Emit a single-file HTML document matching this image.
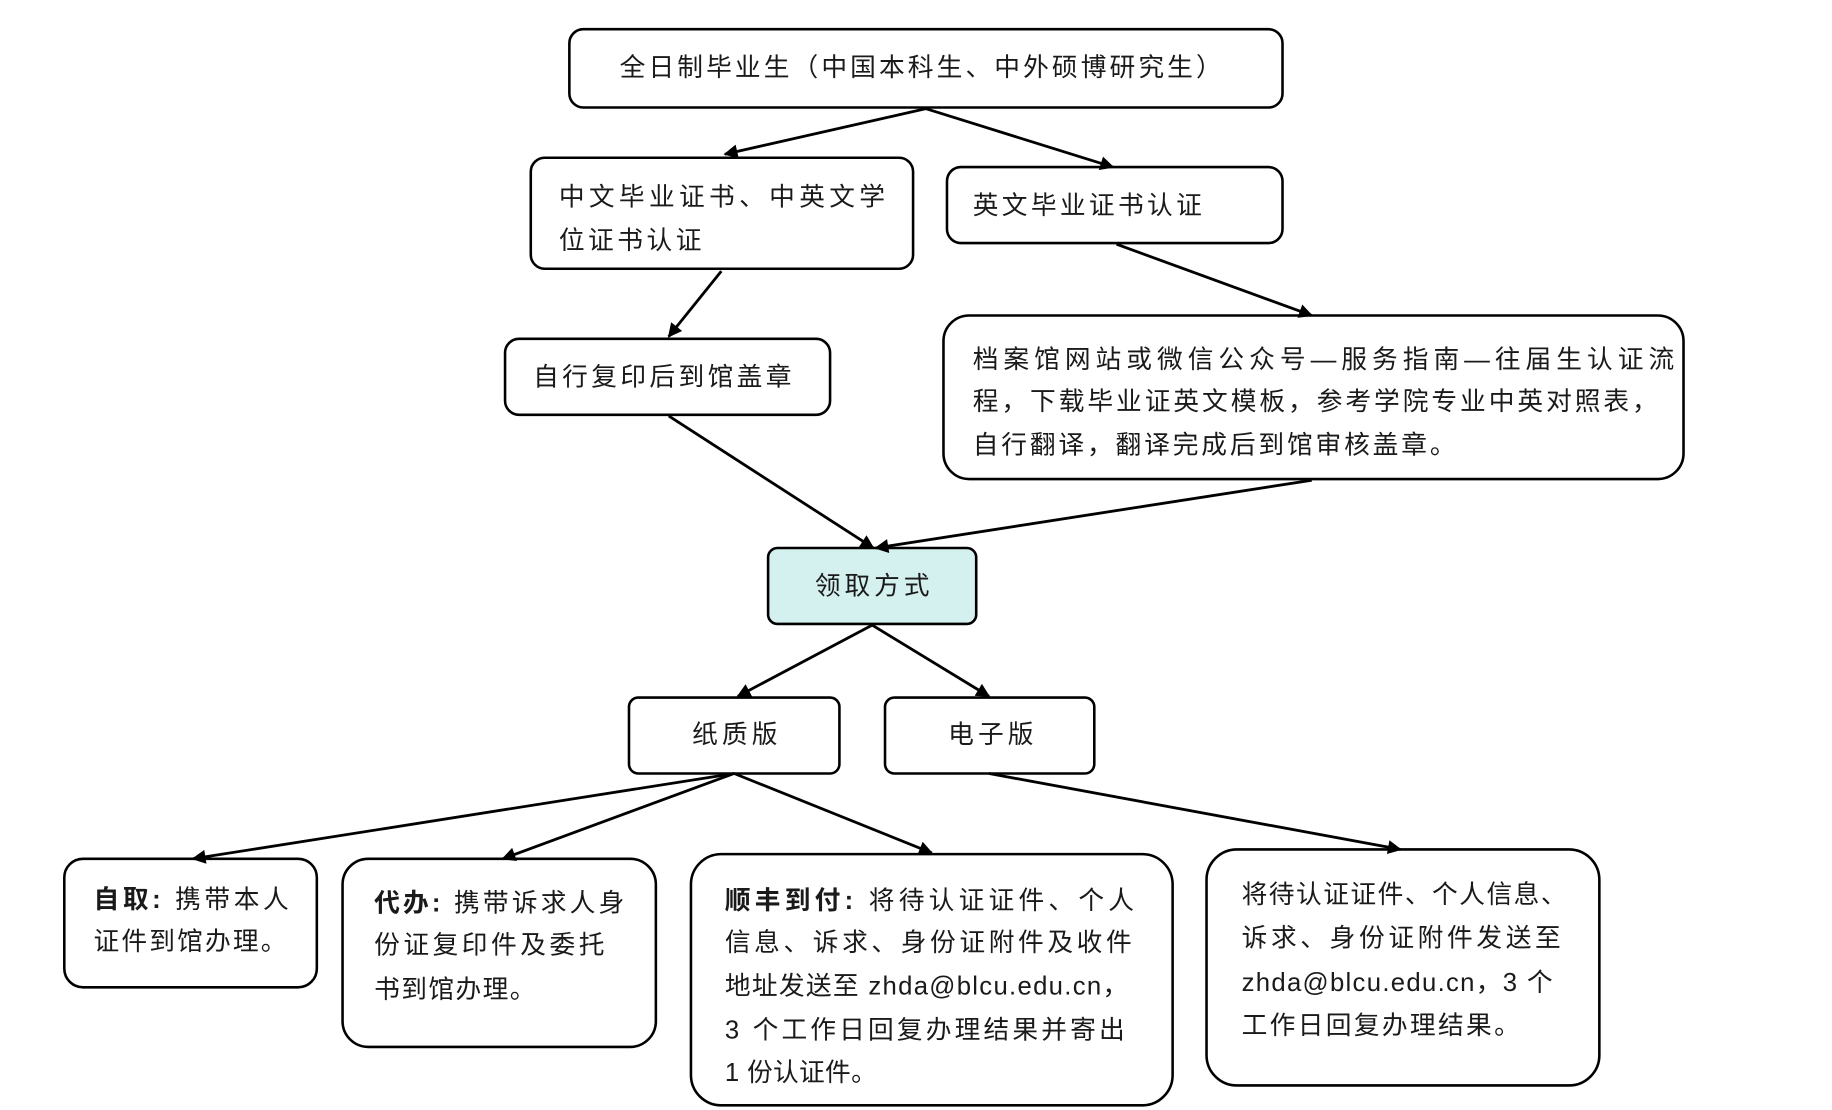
<!DOCTYPE html>
<html><head><meta charset="utf-8"><style>
html,body{margin:0;padding:0;background:#fff;}
svg{display:block;}
text{font-family:"Liberation Sans","Noto Sans CJK SC","WenQuanYi Zen Hei",sans-serif;font-size:22px;fill:#1a1a1a;}
.b{font-weight:bold;}
</style></head><body>
<svg width="1832" height="1110" viewBox="0 0 1567 950" preserveAspectRatio="none" xmlns="http://www.w3.org/2000/svg">
<defs>
<marker id="m" viewBox="0 0 10 10" refX="9" refY="5" markerWidth="14" markerHeight="12" markerUnits="userSpaceOnUse" orient="auto"><path d="M0,0 L10,5 L0,10 z" fill="#000"/></marker></defs>
<g fill="#fff" stroke="#000" stroke-width="2.2">
<rect x="487" y="25" width="610" height="67" rx="12"/>
<rect x="454" y="135" width="327" height="95" rx="12"/>
<rect x="810" y="143" width="287" height="65" rx="12"/>
<rect x="432" y="290" width="278" height="65" rx="12"/>
<rect x="807" y="270" width="633" height="140" rx="22"/>
<rect x="657" y="469" width="178" height="65" rx="8" fill="#d5f1ef"/>
<rect x="538" y="597" width="180" height="65" rx="8"/>
<rect x="757" y="597" width="179" height="65" rx="8"/>
<rect x="55" y="735" width="216" height="110" rx="16"/>
<rect x="293" y="735" width="268" height="161" rx="22"/>
<rect x="591" y="731" width="412" height="215" rx="26"/>
<rect x="1032" y="727" width="336" height="202" rx="26"/>
</g>
<g stroke="#000" stroke-width="2.4" fill="none" marker-end="url(#m)">
<line x1="792" y1="93" x2="620" y2="132"/>
<line x1="792" y1="93" x2="952" y2="143"/>
<line x1="617" y1="232" x2="572" y2="288"/>
<line x1="955" y1="209" x2="1122" y2="270"/>
<line x1="572" y1="356" x2="747" y2="469"/>
<line x1="1122" y1="411" x2="749" y2="469"/>
<line x1="746" y1="535" x2="631" y2="596"/>
<line x1="746" y1="535" x2="846" y2="596"/>
<line x1="628" y1="662" x2="165" y2="735"/>
<line x1="628" y1="662" x2="430" y2="735"/>
<line x1="628" y1="662" x2="797" y2="730"/>
<line x1="846" y1="662" x2="1198" y2="727"/>
</g>
<text x="530" y="65" textLength="515" lengthAdjust="spacing">全日制毕业生（中国本科生、中外硕博研究生）</text>
<text x="478" y="176" textLength="279" lengthAdjust="spacing">中文毕业证书、中英文学</text>
<text x="478" y="213" textLength="122" lengthAdjust="spacing">位证书认证</text>
<text x="832" y="183" textLength="196" lengthAdjust="spacing">英文毕业证书认证</text>
<text x="456" y="330" textLength="221" lengthAdjust="spacing">自行复印后到馆盖章</text>
<text x="832" y="315" textLength="600" lengthAdjust="spacing">档案馆网站或微信公众号—服务指南—往届生认证流</text>
<text x="832" y="351" textLength="586" lengthAdjust="spacing">程，下载毕业证英文模板，参考学院专业中英对照表，</text>
<text x="832" y="388" textLength="413" lengthAdjust="spacing">自行翻译，翻译完成后到馆审核盖章。</text>
<text x="697" y="509" textLength="98" lengthAdjust="spacing">领取方式</text>
<text x="592" y="636" textLength="73" lengthAdjust="spacing">纸质版</text>
<text x="811" y="636" textLength="73" lengthAdjust="spacing">电子版</text>
<text x="80" y="777" textLength="167" lengthAdjust="spacing"><tspan class="b">自取:</tspan> 携带本人</text>
<text x="80" y="813" textLength="165" lengthAdjust="spacing">证件到馆办理。</text>
<text x="320" y="780" textLength="214" lengthAdjust="spacing"><tspan class="b">代办:</tspan> 携带诉求人身</text>
<text x="320" y="816" textLength="197" lengthAdjust="spacing">份证复印件及委托</text>
<text x="320" y="854" textLength="138" lengthAdjust="spacing">书到馆办理。</text>
<text x="620" y="778" textLength="350" lengthAdjust="spacing"><tspan class="b">顺丰到付:</tspan> 将待认证证件、个人</text>
<text x="620" y="814" textLength="348" lengthAdjust="spacing">信息、诉求、身份证附件及收件</text>
<text x="620" y="851" textLength="345" lengthAdjust="spacing">地址发送至 zhda@blcu.edu.cn，</text>
<text x="620" y="889" textLength="342" lengthAdjust="spacing">3 个工作日回复办理结果并寄出</text>
<text x="620" y="925" textLength="130" lengthAdjust="spacing">1 份认证件。</text>
<text x="1062" y="773" textLength="278" lengthAdjust="spacing">将待认证证件、个人信息、</text>
<text x="1062" y="810" textLength="273" lengthAdjust="spacing">诉求、身份证附件发送至</text>
<text x="1062" y="848" textLength="266" lengthAdjust="spacing">zhda@blcu.edu.cn，3 个</text>
<text x="1062" y="885" textLength="238" lengthAdjust="spacing">工作日回复办理结果。</text>
</svg>
</body></html>
